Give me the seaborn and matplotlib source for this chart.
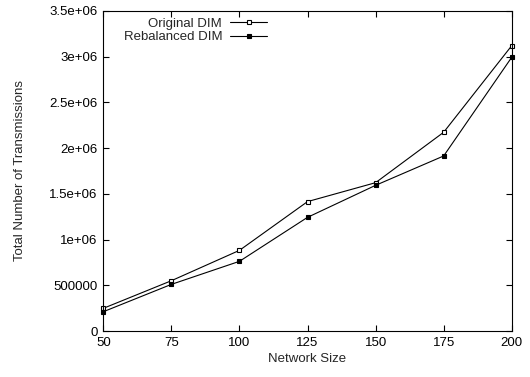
import matplotlib
matplotlib.use("Agg")
import matplotlib.pyplot as plt
import seaborn as sns
import pandas as pd

network_size = [50, 75, 100, 125, 150, 175, 200]
original_dim = [248000, 550000, 882000, 1415000, 1622000, 2173000, 3120000]
rebalanced_dim = [211000, 510000, 762000, 1243000, 1593000, 1914000, 2993000]
x_ticks = [50, 75, 100, 125, 150, 175, 200]
y_ticks = [0, 500000, 1000000, 1500000, 2000000, 2500000, 3000000, 3500000]
y_tick_labels = ["0", "500000", "1e+06", "1.5e+06", "2e+06", "2.5e+06", "3e+06", "3.5e+06"]

sns.set_style("ticks")
plt.rcParams['font.family'] = ['Liberation Sans', 'DejaVu Sans']

fig = plt.figure(figsize=(5.30, 3.77), dpi=100)
ax = fig.add_axes([0.195, 0.122, 0.7705, 0.849])

df = pd.DataFrame({"x": network_size, "orig": original_dim, "reb": rebalanced_dim})
sns.lineplot(data=df, x="x", y="orig", ax=ax, color="black", lw=0.8,
             marker="s", markersize=3.5, markerfacecolor="white",
             markeredgecolor="black", markeredgewidth=0.8,
             label="Original DIM", clip_on=False)
sns.lineplot(data=df, x="x", y="reb", ax=ax, color="black", lw=0.8,
             marker="s", markersize=3.5, markerfacecolor="black",
             markeredgecolor="black", markeredgewidth=0.8,
             label="Rebalanced DIM", clip_on=False)

ax.set_xlim(50, 200)
ax.set_ylim(0, 3500000)
ax.set_xticks(x_ticks)
ax.set_xticklabels([str(v) for v in x_ticks])
ax.set_yticks(y_ticks)
ax.set_yticklabels(y_tick_labels)
ax.tick_params(direction="in", length=4, width=0.8, labelsize=9.5,
               top=True, right=True, pad=4, colors="black")
for s in ax.spines.values():
    s.set_visible(True)
    s.set_linewidth(0.8)
    s.set_color("black")

ax.set_xlabel("Network Size", fontsize=9.5, labelpad=3)
ax.set_ylabel("Total Number of Transmissions", fontsize=9.5, labelpad=17)

leg = ax.legend(loc="upper right", bbox_to_anchor=(0.401, 0.979), frameon=False,
                markerfirst=False, fontsize=9.5, handlelength=2.8,
                handletextpad=0.6, labelspacing=0.1, borderaxespad=0,
                borderpad=0)
for t in leg.get_texts():
    t.set_ha("right")
leg._legend_box.align = "right"

fig.savefig("out.png", dpi=100)
